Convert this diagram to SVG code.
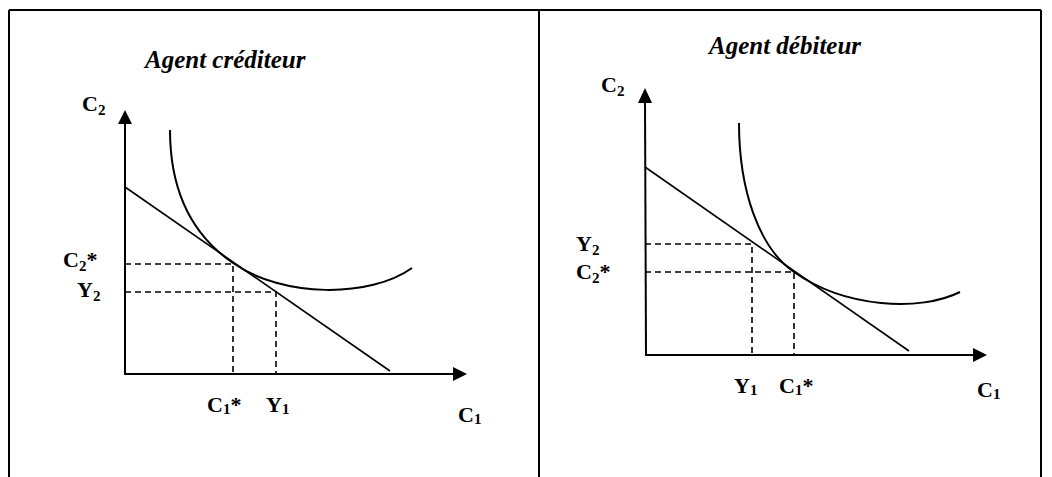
<svg xmlns="http://www.w3.org/2000/svg" width="1052" height="477" viewBox="0 0 1052 477">
<style>
.frame{stroke:#000;stroke-width:2;fill:none}
.axis{stroke:#000;stroke-width:2;fill:none}
.budget{stroke:#000;stroke-width:1.6;fill:none}
.curve{stroke:#000;stroke-width:2;fill:none}
.dash{stroke:#000;stroke-width:1.6;stroke-dasharray:6 4;fill:none}
.head{fill:#000}
.title{font-family:"Liberation Serif",serif;font-weight:bold;font-style:italic;font-size:25px;fill:#000}
.lbl{font-family:"Liberation Serif",serif;font-weight:bold;font-size:22px;fill:#000}
.sub{font-size:15px}
</style>
<rect width="1052" height="477" fill="#fff"/>
<g id="frame">
<line class="frame" x1="9" y1="10" x2="1041" y2="10"/>
<line class="frame" x1="9" y1="10" x2="9" y2="477"/>
<line class="frame" x1="539" y1="10" x2="539" y2="477"/>
<line class="frame" x1="1041" y1="10" x2="1041" y2="477"/>
</g>
<g id="left-panel">
<text class="title" x="145" y="68">Agent créditeur</text>
<g id="left-axes">
<line class="axis" x1="125" y1="122" x2="125" y2="374"/>
<line class="axis" x1="124" y1="374" x2="455" y2="374"/>
<polygon class="head" points="125,110 118,124 132,124"/>
<polygon class="head" points="467,374 453,367 453,381"/>
</g>
<g id="left-lines">
<line class="budget" x1="125" y1="187" x2="390" y2="371"/>
<path class="curve" d="M170,130 C170,195 195,237 233,263 C283,298 370,298 412,268"/>
<polyline class="dash" points="125,264 233,264 233,374"/>
<polyline class="dash" points="125,292 276,292 276,374"/>
</g>
<g id="left-labels">
<text class="lbl" x="82" y="111">C<tspan class="sub" dy="4">2</tspan></text>
<text class="lbl" x="63" y="267">C<tspan class="sub" dy="4">2</tspan><tspan dy="-4">*</tspan></text>
<text class="lbl" x="77" y="297">Y<tspan class="sub" dy="4">2</tspan></text>
<text class="lbl" x="207" y="412">C<tspan class="sub" dy="2">1</tspan><tspan dy="-2">*</tspan></text>
<text class="lbl" x="266" y="412">Y<tspan class="sub" dy="2">1</tspan></text>
<text class="lbl" x="458" y="422">C<tspan class="sub" dy="2">1</tspan></text>
</g>
</g>
<g id="right-panel">
<text class="title" x="709" y="54">Agent débiteur</text>
<g id="right-axes">
<line class="axis" x1="645" y1="100" x2="646" y2="355"/>
<line class="axis" x1="645" y1="355" x2="975" y2="355"/>
<polygon class="head" points="645,88 638,103 652,103"/>
<polygon class="head" points="987,355 973,348 973,362"/>
</g>
<g id="right-lines">
<line class="budget" x1="645" y1="167" x2="909" y2="351"/>
<path class="curve" d="M739,123 C739,190 759,248 794,272 C845,308 920,312 960,292"/>
<polyline class="dash" points="645,244 752,244 752,355"/>
<polyline class="dash" points="645,272 794,272 794,355"/>
</g>
<g id="right-labels">
<text class="lbl" x="601" y="92">C<tspan class="sub" dy="4">2</tspan></text>
<text class="lbl" x="576" y="251">Y<tspan class="sub" dy="4">2</tspan></text>
<text class="lbl" x="576" y="279">C<tspan class="sub" dy="4">2</tspan><tspan dy="-4">*</tspan></text>
<text class="lbl" x="734" y="393">Y<tspan class="sub" dy="2">1</tspan></text>
<text class="lbl" x="779" y="393">C<tspan class="sub" dy="2">1</tspan><tspan dy="-2">*</tspan></text>
<text class="lbl" x="977" y="397">C<tspan class="sub" dy="2">1</tspan></text>
</g>
</g>
</svg>
